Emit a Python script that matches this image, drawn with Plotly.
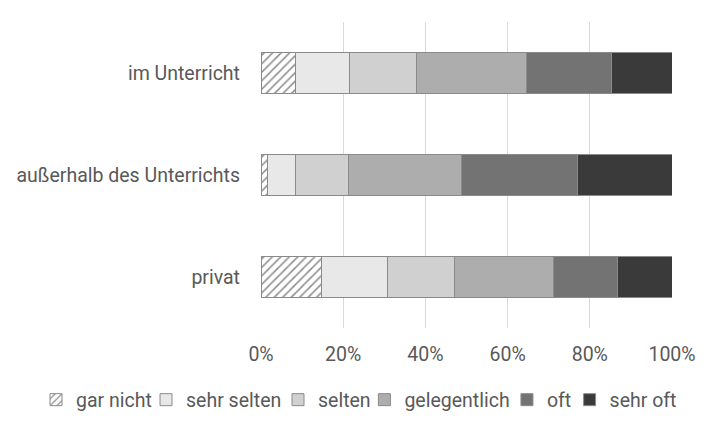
import plotly.graph_objects as go

categories = ["im Unterricht", "außerhalb des Unterrichts", "privat"]
series_names = ["gar nicht", "sehr selten", "selten", "gelegentlich", "oft", "sehr oft"]
gar_nicht = [8.5, 1.7, 14.6]
sehr_selten = [13.0, 6.6, 16.1]
selten = [16.4, 13.1, 16.4]
gelegentlich = [26.7, 27.5, 24.0]
oft = [20.8, 28.0, 15.7]
sehr_oft = [14.6, 23.1, 13.2]
tick_vals = [0, 20, 40, 60, 80, 100]
tick_text = ["0%", "20%", "40%", "60%", "80%", "100%"]

series_values = [gar_nicht, sehr_selten, selten, gelegentlich, oft, sehr_oft]
colors = ["#ffffff", "#e8e8e8", "#d0d0d0", "#adadad", "#737373", "#3a3a3a"]
# left edge of each legend entry (fraction of figure width)
legend_x = [0.0389, 0.1917, 0.3750, 0.4950, 0.6930, 0.7800]

fig = go.Figure()
layout_legends = {}
for i, (name, vals) in enumerate(zip(series_names, series_values)):
    marker = dict(color=colors[i], line=dict(color="#8a8a8a", width=1))
    if i == 0:
        marker["pattern"] = dict(shape="/", fgcolor="#8a8a8a", bgcolor="#ffffff",
                                 size=6, solidity=0.25, fillmode="replace")
    lid = "legend" if i == 0 else f"legend{i + 1}"
    fig.add_trace(go.Bar(y=categories, x=vals, name=name, orientation="h",
                         marker=marker, width=0.4, legend=lid, showlegend=True))
    layout_legends[lid] = dict(
        orientation="h", xref="container", x=legend_x[i], xanchor="left",
        yref="container", y=0.0947, yanchor="middle",
        font=dict(size=19.5, color="#595959"), itemwidth=30,
        bgcolor="rgba(0,0,0,0)", borderwidth=0, visible=True)

fig.update_layout(
    barmode="stack",
    showlegend=True,
    width=720, height=433,
    margin=dict(l=253, r=56, t=14, b=113),
    paper_bgcolor="white", plot_bgcolor="white",
    font=dict(family="Roboto", size=19.5, color="#595959"),
    xaxis=dict(range=[0, 100], tickvals=tick_vals, ticktext=tick_text,
               showgrid=True, gridcolor="#d9d9d9", gridwidth=1,
               zeroline=False, showline=False, ticks="", ticklabelstandoff=12,
               fixedrange=True, automargin=False),
    yaxis=dict(autorange="reversed", showgrid=False, zeroline=False,
               showline=False, ticks="", ticklabelstandoff=20,
               automargin=False),
    **layout_legends,
)
fig.write_html("out.html")
